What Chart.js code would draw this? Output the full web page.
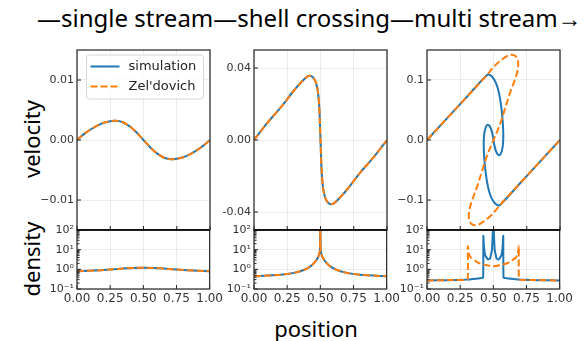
<!DOCTYPE html>
<html>
<head>
<meta charset="utf-8">
<script src="https://cdn.jsdelivr.net/npm/chart.js@4.4.0/dist/chart.umd.min.js"></script>
<style>
body { margin:0; background:#fff; width:586px; height:341px; overflow:hidden; position:relative; font-family:"Noto Sans", sans-serif; }
canvas { position:absolute; }
.lbl { position:absolute; font-size:22px; color:#000; white-space:nowrap; line-height:1; }
.rot { transform:translate(-50%,-50%) rotate(-90deg); }
.ctr { transform:translate(-50%,-50%); }
</style>
</head>
<body>
<div class="lbl" style="left:37px; top:6px; font-size:24px;">—single stream—shell crossing—multi stream→</div>
<div class="lbl rot" style="left:31px; top:139px;">velocity</div>
<div class="lbl rot" style="left:31px; top:259px;">density</div>
<div class="lbl ctr" style="left:316px; top:328px;">position</div>
<script>
// tick values / labels
var xTicks = [0, 0.25, 0.5, 0.75, 1];
var xTickLabels = ['0.00', '0.25', '0.50', '0.75', '1.00'];
var densTicks = [0.1, 1, 10, 100];
var densTickLabels = ['10⁻¹', '10⁰', '10¹', '10²'];
var logMinor = [2, 3, 4, 5, 6, 7, 8, 9];

var vel1Ticks = [-0.01, 0, 0.01];
var vel1TickLabels = ['−0.01', '0.00', '0.01'];
var vel2Ticks = [-0.04, 0, 0.04];
var vel2TickLabels = ['-0.04', '0.00', '0.04'];
var vel3Ticks = [-0.1, 0, 0.1];
var vel3TickLabels = ['−0.1', '0.0', '0.1'];

// single stream
var vel1X = [0, 0.06, 0.12, 0.18, 0.24, 0.29, 0.34, 0.4, 0.45, 0.5, 0.55, 0.6, 0.66, 0.71, 0.76, 0.82, 0.88, 0.94, 1];
var vel1Sim = [0, 0.0011, 0.002, 0.0027, 0.0031, 0.0032, 0.003, 0.0022, 0.0012, 0, -0.0012, -0.0022, -0.003, -0.0032, -0.0031, -0.0027, -0.002, -0.0011, 0];
var vel1Zel = [0, 0.0011, 0.002, 0.0027, 0.0031, 0.0032, 0.003, 0.0022, 0.0012, 0, -0.0012, -0.0022, -0.003, -0.0032, -0.0031, -0.0027, -0.002, -0.0011, 0];
var dens1X = [0, 0.125, 0.25, 0.375, 0.5, 0.625, 0.75, 0.875, 1];
var dens1Sim = [0.81, 0.86, 0.97, 1.12, 1.22, 1.12, 0.97, 0.86, 0.81];
var dens1Zel = [0.81, 0.86, 0.97, 1.12, 1.22, 1.12, 0.97, 0.86, 0.81];

// shell crossing
var vel2X = [0, 0.1, 0.2, 0.3, 0.36, 0.4, 0.425, 0.445, 0.465, 0.48, 0.49, 0.495, 0.5, 0.505, 0.51, 0.52, 0.535, 0.555, 0.575, 0.6, 0.64, 0.7, 0.8, 0.9, 1];
var vel2Sim = [0, 0.0095, 0.018, 0.0275, 0.0325, 0.0352, 0.0357, 0.0347, 0.032, 0.027, 0.019, 0.011, 0, -0.011, -0.019, -0.027, -0.032, -0.0347, -0.0357, -0.0352, -0.0325, -0.0275, -0.018, -0.0095, 0];
var vel2Zel = [0, 0.0095, 0.018, 0.0275, 0.0325, 0.0352, 0.0357, 0.0347, 0.032, 0.027, 0.019, 0.011, 0, -0.011, -0.019, -0.027, -0.032, -0.0347, -0.0357, -0.0352, -0.0325, -0.0275, -0.018, -0.0095, 0];
var dens2X = [0, 0.1, 0.2, 0.3, 0.38, 0.43, 0.46, 0.48, 0.49, 0.497, 0.5, 0.503, 0.51, 0.52, 0.54, 0.57, 0.62, 0.7, 0.8, 0.9, 1];
var dens2Sim = [0.45, 0.48, 0.53, 0.66, 0.95, 1.5, 2.4, 3.8, 5.5, 9, 300, 9, 5.5, 3.8, 2.4, 1.5, 0.95, 0.66, 0.53, 0.48, 0.45];
var dens2Zel = [0.45, 0.48, 0.53, 0.66, 0.95, 1.5, 2.4, 3.8, 5.5, 9, 300, 9, 5.5, 3.8, 2.4, 1.5, 0.95, 0.66, 0.53, 0.48, 0.45];

// multi stream
var vel3SimX = [0, 0.15, 0.3, 0.45, 0.475, 0.505, 0.53, 0.55, 0.565, 0.573, 0.572, 0.563, 0.548, 0.531, 0.515, 0.505, 0.5, 0.495, 0.485, 0.469, 0.452, 0.437, 0.428, 0.427, 0.435, 0.45, 0.47, 0.495, 0.525, 0.55, 0.7, 0.85, 1];
var vel3Sim = [0, 0.036, 0.072, 0.108, 0.108, 0.101, 0.088, 0.068, 0.042, 0.015, -0.005, -0.018, -0.025, -0.024, -0.016, -0.007, 0, 0.007, 0.016, 0.024, 0.025, 0.018, 0.005, -0.015, -0.042, -0.068, -0.088, -0.101, -0.108, -0.108, -0.072, -0.036, 0];
var vel3ZelX = [0, 0.15, 0.3, 0.45, 0.51, 0.57, 0.625, 0.665, 0.685, 0.68, 0.66, 0.625, 0.585, 0.545, 0.5, 0.455, 0.415, 0.375, 0.34, 0.32, 0.315, 0.335, 0.375, 0.43, 0.49, 0.55, 0.7, 0.85, 1];
var vel3Zel = [0, 0.036, 0.072, 0.108, 0.124, 0.135, 0.142, 0.14, 0.13, 0.115, 0.1, 0.079, 0.051, 0.024, 0, -0.024, -0.051, -0.079, -0.1, -0.115, -0.13, -0.14, -0.142, -0.135, -0.124, -0.108, -0.072, -0.036, 0];
var dens3SimX = [0, 0.15, 0.3, 0.4, 0.423, 0.425, 0.43, 0.44, 0.46, 0.475, 0.49, 0.5, 0.51, 0.525, 0.54, 0.56, 0.57, 0.575, 0.577, 0.6, 0.7, 0.85, 1];
var dens3Sim = [0.27, 0.28, 0.3, 0.35, 0.38, 50, 13, 5, 3.2, 3.5, 10, 300, 10, 3.5, 3.2, 5, 13, 50, 0.38, 0.35, 0.3, 0.28, 0.27];
var dens3ZelX = [0, 0.2, 0.305, 0.307, 0.315, 0.33, 0.36, 0.39, 0.45, 0.5, 0.55, 0.61, 0.64, 0.67, 0.685, 0.693, 0.695, 0.8, 1];
var dens3Zel = [0.27, 0.29, 0.31, 15, 6.5, 4, 2.8, 2.1, 1.6, 1.45, 1.6, 2.1, 2.8, 4, 6.5, 15, 0.31, 0.29, 0.27];

var BLUE = '#1f77b4';
var ORANGE = '#ff7f0e';
var ML = 48, MR = 16, MT = 12;

function pts(xs, ys) {
    return xs.map(function (x, i) { return { x: x, y: ys[i] }; });
}

function line(ctx, x1, y1, x2, y2) {
    ctx.beginPath();
    ctx.moveTo(x1, y1);
    ctx.lineTo(x2, y2);
    ctx.stroke();
}

// frame, inward ticks and the legend box (matplotlib look)
var framePlugin = {
    id: 'frame',
    afterDraw: function (chart, args, o) {
        var a = chart.chartArea, ctx = chart.ctx;
        var xs = chart.scales.x, ys = chart.scales.y;
        ctx.save();
        ctx.strokeStyle = '#222';
        ctx.lineWidth = 1;
        xTicks.forEach(function (v) {
            var px = xs.getPixelForValue(v);
            line(ctx, px, a.bottom, px, a.bottom - 4);
        });
        o.yTicks.forEach(function (v) {
            var py = ys.getPixelForValue(v);
            line(ctx, a.left, py, a.left + 4, py);
        });
        if (o.log) {
            [0.1, 1, 10].forEach(function (d) {
                logMinor.forEach(function (m) {
                    var py = ys.getPixelForValue(d * m);
                    line(ctx, a.left, py, a.left + 2.5, py);
                });
            });
        }
        ctx.strokeStyle = '#333';
        ctx.lineWidth = 1.3;
        ctx.strokeRect(a.left, a.top, a.right - a.left, a.bottom - a.top);
        if (o.log) {
            ctx.strokeStyle = '#000';
            ctx.lineWidth = 1.7;
            line(ctx, a.left, a.top, a.right, a.top);
        }
        if (o.legend) {
            var bx = a.left + 9.5, by = a.top + 5, bw = 117, bh = 44;
            ctx.beginPath();
            ctx.roundRect(bx, by, bw, bh, 3);
            ctx.fillStyle = 'rgba(255,255,255,0.8)';
            ctx.fill();
            ctx.strokeStyle = '#d6d6d6';
            ctx.lineWidth = 1;
            ctx.stroke();
            ctx.font = '13px "DejaVu Sans"';
            ctx.textBaseline = 'middle';
            chart.data.datasets.forEach(function (ds, i) {
                var yy = by + 11.5 + i * 20;
                ctx.strokeStyle = ds.borderColor;
                ctx.lineWidth = 2;
                ctx.setLineDash(ds.borderDash || []);
                line(ctx, bx + 4, yy, bx + 33, yy);
                ctx.setLineDash([]);
                ctx.fillStyle = '#222';
                ctx.fillText(ds.label, bx + 42, yy);
            });
        }
        ctx.restore();
    }
};

function panel(left, top, w, h, cfg) {
    var mb = cfg.log ? 22 : 12;
    var c = document.createElement('canvas');
    c.width = ML + w + MR;
    c.height = MT + h + mb;
    c.style.left = (left - ML) + 'px';
    c.style.top = (top - MT) + 'px';
    document.body.appendChild(c);
    var tension = cfg.tension;
    new Chart(c, {
        type: 'scatter',
        data: {
            datasets: [{
                label: 'simulation',
                data: pts(cfg.simX, cfg.sim),
                showLine: true,
                borderColor: BLUE,
                borderWidth: 2,
                pointRadius: 0,
                tension: tension,
                order: 1
            }, {
                label: "Zel'dovich",
                data: pts(cfg.zelX, cfg.zel),
                showLine: true,
                borderColor: ORANGE,
                borderWidth: 2,
                borderDash: [7, 3],
                pointRadius: 0,
                tension: tension,
                order: 0
            }]
        },
        options: {
            responsive: false,
            animation: false,
            events: [],
            layout: { padding: { left: 0, right: MR, top: MT, bottom: 0 } },
            plugins: {
                legend: { display: false },
                tooltip: { enabled: false },
                frame: { yTicks: cfg.yTicks, log: cfg.log, legend: cfg.legend }
            },
            scales: {
                x: {
                    type: 'linear',
                    min: 0,
                    max: 1,
                    afterBuildTicks: function (s) { s.ticks = xTicks.map(function (v) { return { value: v }; }); },
                    afterFit: function (s) { s.height = mb; },
                    grid: { color: '#ececec', drawTicks: false },
                    border: { display: false },
                    ticks: {
                        display: !!cfg.log,
                        autoSkip: false,
                        maxRotation: 0,
                        padding: 3,
                        color: '#333',
                        font: { family: 'DejaVu Sans', size: 12 },
                        callback: function (v, i) { return xTickLabels[i]; }
                    }
                },
                y: {
                    type: cfg.log ? 'logarithmic' : 'linear',
                    min: cfg.yMin,
                    max: cfg.yMax,
                    afterBuildTicks: function (s) { s.ticks = cfg.yTicks.map(function (v) { return { value: v }; }); },
                    afterFit: function (s) { s.width = ML; },
                    grid: { color: '#ececec', drawTicks: false },
                    border: { display: false },
                    ticks: {
                        autoSkip: false,
                        padding: 3,
                        color: '#333',
                        font: { family: 'DejaVu Sans', size: 11 },
                        callback: function (v, i) { return cfg.yLabels[i]; }
                    }
                }
            }
        },
        plugins: [framePlugin]
    });
}

var PX = [77, 254, 427], PW = 133;
var VT = 50, VH = 180, DT = 230, DH = 59;

panel(PX[0], VT, PW, VH, { simX: vel1X, sim: vel1Sim, zelX: vel1X, zel: vel1Zel, yMin: -0.015, yMax: 0.015, yTicks: vel1Ticks, yLabels: vel1TickLabels, tension: 0.4, legend: true });
panel(PX[1], VT, PW, VH, { simX: vel2X, sim: vel2Sim, zelX: vel2X, zel: vel2Zel, yMin: -0.05, yMax: 0.05, yTicks: vel2Ticks, yLabels: vel2TickLabels, tension: 0.3 });
panel(PX[2], VT, PW, VH, { simX: vel3SimX, sim: vel3Sim, zelX: vel3ZelX, zel: vel3Zel, yMin: -0.15, yMax: 0.15, yTicks: vel3Ticks, yLabels: vel3TickLabels, tension: 0.35 });
panel(PX[0], DT, PW, DH, { simX: dens1X, sim: dens1Sim, zelX: dens1X, zel: dens1Zel, yMin: 0.1, yMax: 100, yTicks: densTicks, yLabels: densTickLabels, tension: 0.4, log: true });
panel(PX[1], DT, PW, DH, { simX: dens2X, sim: dens2Sim, zelX: dens2X, zel: dens2Zel, yMin: 0.1, yMax: 100, yTicks: densTicks, yLabels: densTickLabels, tension: 0.2, log: true });
panel(PX[2], DT, PW, DH, { simX: dens3SimX, sim: dens3Sim, zelX: dens3ZelX, zel: dens3Zel, yMin: 0.1, yMax: 100, yTicks: densTicks, yLabels: densTickLabels, tension: 0.1, log: true });
</script>
</body>
</html>
